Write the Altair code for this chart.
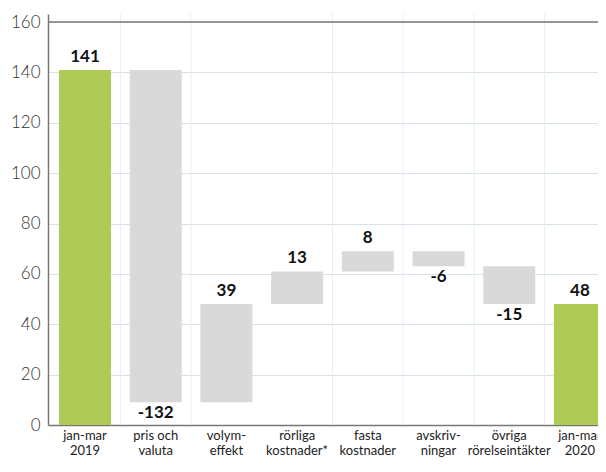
import altair as alt
import pandas as pd

labels = ["jan-mar|2019", "pris och|valuta", "volym-|effekt", "rörliga|kostnader*",
          "fasta|kostnader", "avskriv-|ningar", "övriga|rörelseintäkter", "jan-mar|2020"]
values = [141, -132, 39, 13, 8, -6, -15, 48]
kinds = ["total", "delta", "delta", "delta", "delta", "delta", "delta", "total"]
separators = ["pris och|valuta", "volym-|effekt", "fasta|kostnader",
              "avskriv-|ningar", "övriga|rörelseintäkter", "jan-mar|2020"]
y_ticks = [0, 20, 40, 60, 80, 100, 120, 140, 160]

rows = []
run = 0
for lab, v, k in zip(labels, values, kinds):
    if k == "total":
        start, end = 0, v
        run = v
    else:
        start, end = run, run + v
        run = end
    rows.append({"cat": lab, "val": v, "kind": k, "lo": min(start, end), "hi": max(start, end),
                 "label": str(v), "pos": "up" if v >= 0 else "down"})
df = pd.DataFrame(rows)

FONT = "Lato"
xscale = alt.Scale(type="band", domain=labels, paddingInner=0.5, paddingOuter=0.1397, align=0.979)
yscale = alt.Scale(domain=[0, 163.2], nice=False, zero=True)

base = alt.Chart(df)

bars = base.mark_bar(size=52).encode(
    x=alt.X("cat:N", sort=labels, scale=xscale, title=None,
            axis=alt.Axis(labelExpr="split(datum.label, '|')", labelAngle=0, labelFont=FONT,
                          labelFontSize=13, labelColor="#222", labelLineHeight=15.6,
                          domainColor="#777", domainWidth=1.5, ticks=False, labelPadding=4,
                          grid=False, labelBound=False, labelOverlap=False, bandPosition=0.5)),
    y=alt.Y("lo:Q", scale=yscale, title=None,
            axis=alt.Axis(values=y_ticks, labelFont=FONT, labelFontSize=17, labelFontWeight=300,
                          labelColor="#333", ticks=False, labelPadding=8,
                          domainColor="#777", domainWidth=1.5,
                          gridColor="#d6e1e9", gridWidth=1)),
    y2="hi:Q",
    color=alt.Color("kind:N", scale=alt.Scale(domain=["total", "delta"],
                                              range=["#b0cb55", "#d9d9d9"]), legend=None),
)

seps = alt.Chart(pd.DataFrame({"cat": separators})).mark_rule(
    color="#e6eff5", strokeWidth=1, xOffset=-35.35
).encode(
    x=alt.X("cat:N", sort=labels, scale=xscale),
)

top_rule = alt.Chart(pd.DataFrame({"y": [160]})).mark_rule(color="#777", strokeWidth=1.5).encode(
    y=alt.Y("y:Q", scale=yscale)
)

txt_up = base.transform_filter("datum.pos == 'up'").mark_text(
    baseline="bottom", dy=-4, font=FONT, fontSize=17, fontWeight="bold", color="#111"
).encode(x=alt.X("cat:N", sort=labels, scale=xscale), y=alt.Y("hi:Q", scale=yscale), text="label:N")

txt_down = base.transform_filter("datum.pos == 'down'").mark_text(
    baseline="top", dy=3, font=FONT, fontSize=17, fontWeight="bold", color="#111"
).encode(x=alt.X("cat:N", sort=labels, scale=xscale), y=alt.Y("lo:Q", scale=yscale), text="label:N")

chart = alt.layer(bars, seps, top_rule, txt_up, txt_down).properties(
    width=550, height=411,
    autosize=alt.AutoSizeParams(type="none"),
    padding={"left": 40, "top": 6, "right": 0, "bottom": 38},
).configure_view(stroke=None)

chart.save("out.html", embed_options={"renderer": "svg", "actions": False})
